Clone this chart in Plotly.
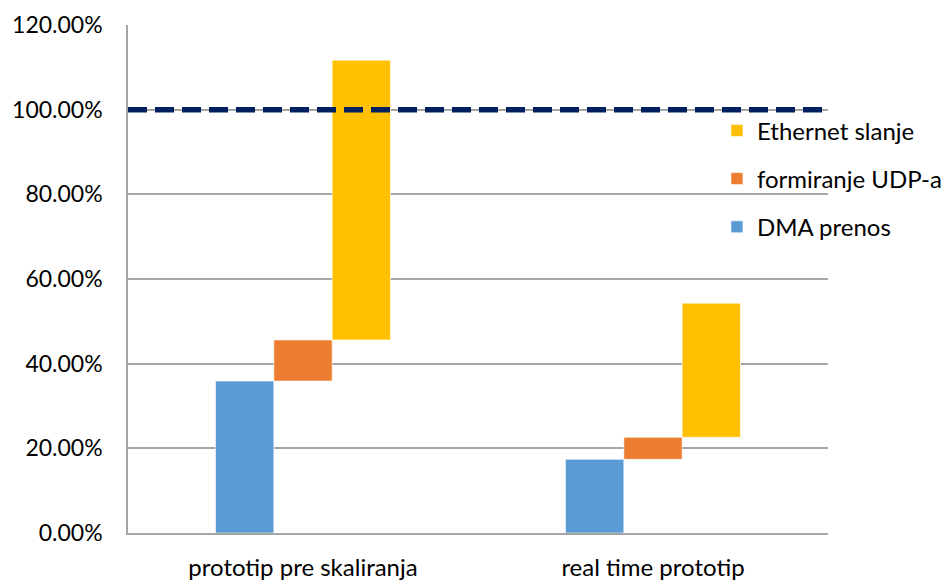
import plotly.graph_objects as go

# Data: share of the time budget spent in each processing stage
categories = ["prototip pre skaliranja", "real time prototip"]
dma_prenos = [0.359, 0.174]
formiranje_udp = [0.097, 0.052]
ethernet_slanje = [0.661, 0.317]
budget_limit = 1.0

series_names = ["DMA prenos", "formiranje UDP-a", "Ethernet slanje"]
series_colors = ["#5B9BD5", "#ED7D31", "#FFC000"]
legend_ranks = [3, 2, 1]

# Each stage starts where the previous one ended (waterfall-style steps)
udp_base = list(dma_prenos)
eth_base = [a + b for a, b in zip(dma_prenos, formiranje_udp)]

values = [dma_prenos, formiranje_udp, ethernet_slanje]
bases = [[0, 0], udp_base, eth_base]

fig = go.Figure()
for name, color, vals, base, rank in zip(series_names, series_colors, values, bases, legend_ranks):
    fig.add_trace(go.Bar(
        x=categories,
        y=vals,
        base=base,
        name=name,
        legendgroup=name,
        legendrank=rank,
        marker=dict(color=color, line=dict(color="rgba(255,255,255,0.6)", width=1)),
    ))

# 100 % limit line
fig.add_shape(
    type="line", xref="paper", yref="y",
    x0=0, x1=1, y0=budget_limit, y1=budget_limit,
    line=dict(color="#002060", width=5.5, dash="19px,8px"),
    layer="above",
)

font_family = "Lato, 'Open Sans', sans-serif"

fig.update_layout(
    width=944, height=580,
    margin=dict(l=128, r=116, t=25, b=47, autoexpand=False),
    plot_bgcolor="white",
    paper_bgcolor="white",
    barmode="group",
    bargap=0.5,
    bargroupgap=0,
    font=dict(family=font_family, size=22, color="#000000"),
    showlegend=True,
    legend=dict(
        x=0.8414, xanchor="left",
        y=0.836, yanchor="top",
        traceorder="grouped",
        tracegroupgap=14,
        font=dict(size=24),
        bgcolor="rgba(0,0,0,0)",
    ),
    xaxis=dict(
        showgrid=False,
        automargin=False,
        showline=True, linecolor="#A6A6A6", linewidth=1.5,
        ticks="",
        ticklabelstandoff=12,
        tickfont=dict(size=24),
    ),
    yaxis=dict(
        range=[0, 1.2],
        dtick=0.2,
        tickformat=".2%",
        automargin=False,
        showgrid=True, gridcolor="#A6A6A6", gridwidth=1.5,
        showline=True, linecolor="#A6A6A6", linewidth=1.5,
        zeroline=False,
        ticks="",
        ticklabelstandoff=19,
        tickfont=dict(size=23),
    ),
)

fig.write_html("out.html")
